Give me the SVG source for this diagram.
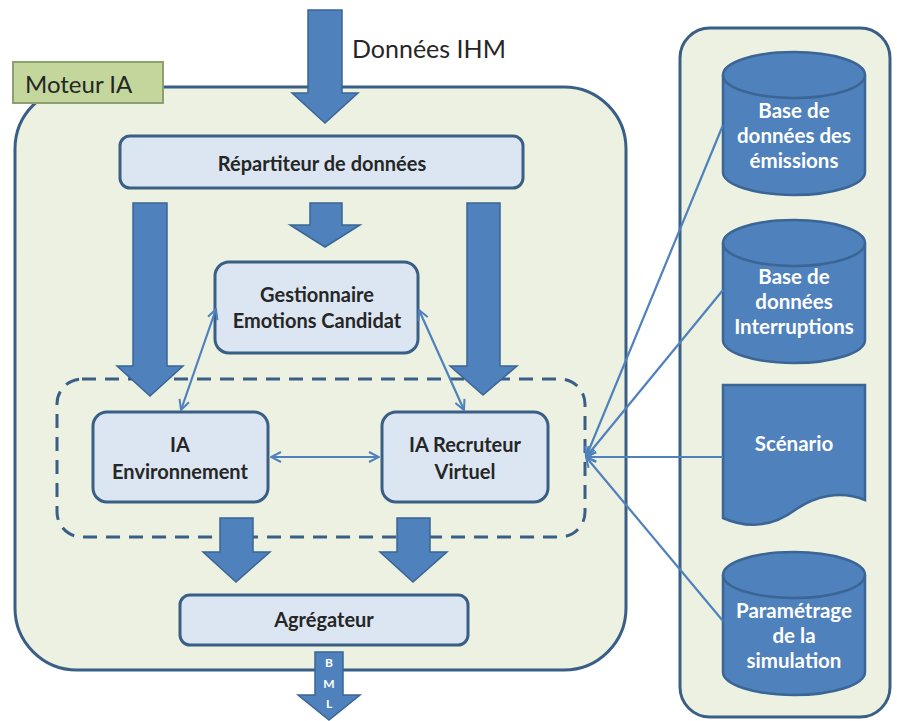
<svg xmlns="http://www.w3.org/2000/svg" width="897" height="721" viewBox="0 0 897 721">
<defs>
<style>
.cont{fill:#EDF1E1;stroke:#3A5F86;stroke-width:3}
.box{fill:#DCE6F2;stroke:#3A5F86;stroke-width:3}
.bt{font-family:Lato,"Open Sans",sans-serif;font-size:20px;font-weight:bold;fill:#262626;text-anchor:middle}
.db{fill:#4F81BD;stroke:#3A6594;stroke-width:2.5}
.dbt{font-family:Lato,"Open Sans",sans-serif;font-size:20.5px;font-weight:bold;fill:#FFFFFF;text-anchor:middle}
.blk{fill:#4F81BD;stroke:#3A6594;stroke-width:1.5}
.ln{fill:none;stroke:#4F81BD;stroke-width:2.2}
.bml{font-family:Lato,sans-serif;font-size:12px;font-weight:bold;fill:#FFFFFF;text-anchor:middle}
</style>
<marker id="ah" viewBox="0 0 12 12" refX="11" refY="6" markerWidth="12" markerHeight="12" markerUnits="userSpaceOnUse" orient="auto-start-reverse">
<path d="M1,1 L11,6 L1,11" fill="none" stroke="#4F81BD" stroke-width="2"/>
</marker>
</defs>
<rect width="897" height="721" fill="#FFFFFF"/>
<g id="moteur">
<rect class="cont" x="15" y="87" width="611" height="583" rx="62"/>
</g>
<g id="ressources">
<rect class="cont" x="680" y="28" width="210" height="689" rx="30"/>
</g>
<g id="label-moteur">
<rect x="13" y="62" width="150" height="41" fill="#C3D69B" stroke="#8FA070" stroke-width="2"/>
<text x="25" y="93" font-family="Lato,'Open Sans',sans-serif" font-size="24" fill="#262626">Moteur IA</text>
</g>
<g id="donnees-ihm">
<path class="blk" d="M308,10 H342 V93 H358 L325,123 L292,93 H308 Z"/>
<text x="352" y="58" font-family="Lato,'Open Sans',sans-serif" font-size="25" fill="#262626">Données IHM</text>
</g>
<g id="dashed-group">
<rect x="57" y="379" width="528" height="158" rx="25" fill="none" stroke="#3A5F86" stroke-width="3" stroke-dasharray="14,9"/>
</g>
<g id="repartiteur">
<rect class="box" x="120" y="136" width="403" height="52" rx="10"/>
<text class="bt" x="322" y="171">Répartiteur de données</text>
</g>
<g id="block-arrows">
<path class="blk" d="M133,203 H167 V366 H183 L150,396 L117,366 H133 Z"/>
<path class="blk" d="M310,203 H342 V225 H360 L325,247 L290,225 H310 Z"/>
<path class="blk" d="M467,203 H500 V366 H517 L483,395 L450,366 H467 Z"/>
<path class="blk" d="M220,518 H253 V552 H270 L236,582 L203,552 H220 Z"/>
<path class="blk" d="M397,518 H430 V552 H447 L413,582 L380,552 H397 Z"/>
</g>
<g id="gestionnaire">
<rect class="box" x="215" y="262" width="203" height="91" rx="14"/>
<text class="bt" x="317" y="302">Gestionnaire</text>
<text class="bt" x="317" y="328">Emotions Candidat</text>
</g>
<g id="ia-environnement">
<rect class="box" x="93" y="412" width="175" height="90" rx="14"/>
<text class="bt" x="180" y="452">IA</text>
<text class="bt" x="180" y="479">Environnement</text>
</g>
<g id="ia-recruteur">
<rect class="box" x="382" y="412" width="166" height="90" rx="14"/>
<text class="bt" x="465" y="452">IA Recruteur</text>
<text class="bt" x="465" y="479">Virtuel</text>
</g>
<g id="agregateur">
<rect class="box" x="180" y="595" width="288" height="50" rx="10"/>
<text class="bt" x="324" y="627">Agrégateur</text>
</g>
<g id="bml">
<path class="blk" d="M315,652 H343 V695 H360 L329,720 L298,695 H315 Z"/>
<text class="bml" x="329" y="667">B</text>
<text class="bml" x="329" y="688">M</text>
<text class="bml" x="329" y="708">L</text>
</g>
<g id="db-emissions">
<path class="db" d="M723,75 V172 A71,23 0 0 0 865,172 V75"/>
<ellipse class="db" cx="794" cy="75" rx="71" ry="23"/>
<text class="dbt" x="794" y="118">Base de</text>
<text class="dbt" x="794" y="143">données des</text>
<text class="dbt" x="794" y="168">émissions</text>
</g>
<g id="db-interruptions">
<path class="db" d="M723,243 V340 A71,23 0 0 0 865,340 V243"/>
<ellipse class="db" cx="794" cy="243" rx="71" ry="23"/>
<text class="dbt" x="794" y="284">Base de</text>
<text class="dbt" x="794" y="309">données</text>
<text class="dbt" x="794" y="334">Interruptions</text>
</g>
<g id="scenario">
<path class="db" d="M723,385 H865 V500 C840,490 815,496 795,510 C775,525 750,530 723,518 Z"/>
<text class="dbt" x="794" y="451">Scénario</text>
</g>
<g id="db-parametrage">
<path class="db" d="M723,575 V672 A71,23 0 0 0 865,672 V575"/>
<ellipse class="db" cx="794" cy="575" rx="71" ry="23"/>
<text class="dbt" x="794" y="618">Paramétrage</text>
<text class="dbt" x="794" y="643">de la</text>
<text class="dbt" x="794" y="668">simulation</text>
</g>
<g id="connectors">
<line class="ln" x1="271" y1="457" x2="379" y2="457" marker-start="url(#ah)" marker-end="url(#ah)"/>
<line class="ln" x1="216" y1="309" x2="181" y2="410" marker-start="url(#ah)" marker-end="url(#ah)"/>
<line class="ln" x1="419" y1="310" x2="464" y2="410" marker-start="url(#ah)" marker-end="url(#ah)"/>
<line class="ln" x1="723" y1="125" x2="586" y2="457" marker-end="url(#ah)"/>
<line class="ln" x1="723" y1="290" x2="586" y2="457" marker-end="url(#ah)"/>
<line class="ln" x1="723" y1="457" x2="586" y2="457" marker-end="url(#ah)"/>
<line class="ln" x1="723" y1="621" x2="586" y2="457" marker-end="url(#ah)"/>
</g>
</svg>
